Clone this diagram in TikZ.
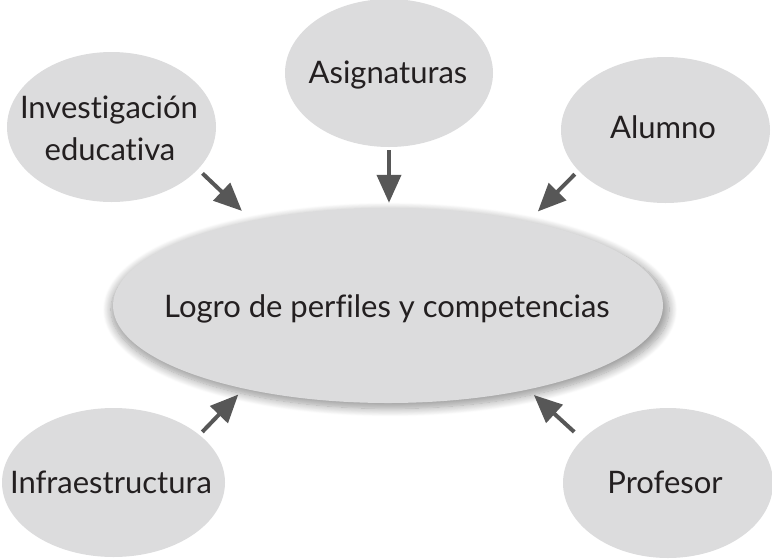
\documentclass[tikz,border=0pt]{standalone}
\usepackage{fontspec}
\setmainfont{Lato}[Ligatures=NoCommon]
\usetikzlibrary{arrows.meta,shapes.geometric,shadows.blur}
\definecolor{bubblefill}{HTML}{DCDCDD}
\definecolor{arrowgray}{HTML}{575757}
\definecolor{textdark}{HTML}{231F20}
\begin{document}
\begin{tikzpicture}[x=1pt,y=-1pt,
  bubble/.style={ellipse, fill=bubblefill, inner sep=0pt, draw=none},
  lbl/.style={font=\fontsize{31}{36}\selectfont, anchor=base, inner sep=0pt, text=textdark},
  arr/.style={draw=arrowgray, line width=4pt, -{Triangle[length=28pt,width=24pt]}}]
\useasboundingbox (0,0) rectangle (772,558);
% central ellipse
\node[bubble, minimum width=550pt, minimum height=195pt,
  blur shadow={shadow xshift=2pt, shadow yshift=-4pt, shadow scale=1.015,
  shadow blur radius=8pt, shadow blur steps=12, shadow opacity=40}] (c) at (388,305.5) {};
% outer ellipses
\node[bubble, minimum width=208pt, minimum height=148pt] (asi) at (389,73) {};
\node[bubble, minimum width=209pt, minimum height=150pt] (inv) at (111.5,127) {};
\node[bubble, minimum width=209pt, minimum height=146pt] (alu) at (665.5,130) {};
\node[bubble, minimum width=223pt, minimum height=149pt] (inf) at (113.5,482.5) {};
\node[bubble, minimum width=210pt, minimum height=150pt] (pro) at (668,483) {};
% texts
\node[lbl] (tc) at (387,317) {Logro de perfiles y competencias};
\node[lbl] (tasi) at (388,83) {Asignaturas};
\node[lbl] (tinv1) at (109,118) {Investigación};
\node[lbl] (tinv2) at (110,160) {educativa};
\node[lbl] (talu) at (663,138) {Alumno};
\node[lbl] (tinf) at (111,493) {Infraestructura};
\node[lbl] (tpro) at (665,493) {Profesor};
% arrows
\draw[arr, shorten <=3pt, shorten >=5pt] (asi.south) -- (asi.south |- c.north);
\draw[arr, shorten <=6pt, shorten >=14pt] (inv.-26.3) -- (c.148.7);
\draw[arr, shorten <=5pt, shorten >=14pt] (alu.205) -- (c.31.3);
\draw[arr, shorten <=4pt, shorten >=8pt] (inf.29) -- (c.210.3);
\draw[arr, shorten <=11pt, shorten >=8pt] (pro.153.4) -- (c.329.7);
\end{tikzpicture}
\end{document}
